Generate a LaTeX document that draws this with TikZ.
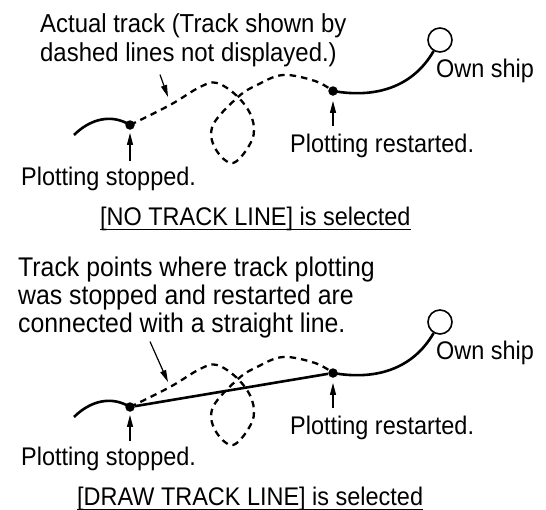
\documentclass[tikz,border=0pt]{standalone}
\usepackage{fontspec}
\setmainfont{Liberation Sans}[FakeStretch=0.92]
\usetikzlibrary{arrows.meta, calc}
\tikzset{
  track/.style={line width=2.6pt},
  hidden/.style={line width=2.3pt, dash pattern=on 6.5pt off 5pt},
  pointer/.style={line width=1.2pt, -{Triangle[length=12pt, width=6pt]}},
  dot/.style={circle, fill=black, inner sep=0pt, minimum size=9.5pt},
  ship/.style={circle, draw=black, line width=1.6pt, fill=white, inner sep=0pt, minimum size=24pt},
  tagtext/.style={inner sep=0pt, font=\fontsize{25.5}{29}\selectfont},
  notetext/.style={inner sep=0pt, align=left, font=\fontsize{26}{29}\selectfont},
  captext/.style={inner sep=0pt, font=\fontsize{25.5}{29}\selectfont},
  underrule/.style={line width=1.5pt}
}
\begin{document}
\begin{tikzpicture}[x=1pt, y=-1pt]
  \useasboundingbox (0,0) rectangle (546,509);

  % Oben: [NO TRACK LINE]
  \node[notetext, anchor=north west] (actualA) at (40,13) {Actual track (Track shown by\\dashed lines not displayed.)};
  \node[dot] (stopA) at (130,125) {};
  \node[dot] (restartA) at (333,91) {};
  \node[ship] (shipA) at (440,40) {};
  \coordinate (tailA) at (74,135);
  \coordinate (hintA) at (168,97);
  \node[tagtext, anchor=base west] (stoppedA) at (21,185) {Plotting stopped.};
  \node[tagtext, anchor=base west] (restartedA) at (290,152) {Plotting restarted.};
  \node[tagtext, anchor=base west] (ownA) at (436,77) {Own ship};
  \node[captext, anchor=base west] (capA) at (100,225) {[NO TRACK LINE] is selected};

  % Spur
  \draw[track] (tailA) to[out=45,in=148] (stopA.center);
  \draw[hidden] plot[smooth, tension=0.6] coordinates {(stopA.center) (170,105) (200,87) (217,83) (238,97) (252,118) (252,140) (233,163) (215,148) (213,125) (238,97) (257,85) (283,75) (315,81) (restartA.center)};
  \draw[track] (restartA.center) to[out=-10,in=240] (shipA);

  % Pfeile
  \draw[pointer] ([xshift=120pt, yshift=-8pt]actualA.south west) -- (hintA);
  \draw[pointer, shorten <=5pt, shorten >=3pt] (stopA |- stoppedA.north) -- (stopA);
  \draw[pointer, shorten <=7pt, shorten >=5pt] (restartA |- restartedA.north) -- (restartA);
  \draw[underrule] ([yshift=-4.5pt]capA.base west) -- ([yshift=-4.5pt]capA.base east);

  % Unten: [DRAW TRACK LINE]
  \node[notetext, anchor=north west, font=\fontsize{27}{28}\selectfont] (straightB) at (18,257) {Track points where track plotting\\was stopped and restarted are\\connected with a straight line.};
  \node[captext, anchor=base west] (capB) at (77,505) {[DRAW TRACK LINE] is selected};
  \begin{scope}[shift={(0,282)}]
    \node[dot] (stopB) at (130,125) {};
    \node[dot] (restartB) at (333,91) {};
    \node[ship] (shipB) at (440,40) {};
    \coordinate (tailB) at (74,135);
    \coordinate (hintB) at (168,100);
    \node[tagtext, anchor=base west] (stoppedB) at (21,183) {Plotting stopped.};
    \node[tagtext, anchor=base west] (restartedB) at (290,152) {Plotting restarted.};
    \node[tagtext, anchor=base west] (ownB) at (436,77) {Own ship};

    % Spur
    \draw[track] (tailB) to[out=45,in=148] (stopB.center);
    \draw[hidden] plot[smooth, tension=0.6] coordinates {(stopB.center) (170,105) (200,87) (217,83) (238,97) (252,118) (252,140) (233,163) (215,148) (213,125) (238,97) (257,85) (283,75) (315,81) (restartB.center)};
    \draw[track] (restartB.center) to[out=-10,in=240] (shipB);
    \draw[track] (stopB) -- (restartB);

    % Pfeile
    \draw[pointer, shorten <=5pt, shorten >=3pt] (stopB |- stoppedB.north) -- (stopB);
    \draw[pointer, shorten <=7pt, shorten >=5pt] (restartB |- restartedB.north) -- (restartB);
  \end{scope}
  \draw[pointer] ([xshift=132pt, yshift=-3pt]straightB.south west) -- (hintB);
  \draw[underrule] ([yshift=-4.5pt]capB.base west) -- ([yshift=-4.5pt]capB.base east);
\end{tikzpicture}
\end{document}
